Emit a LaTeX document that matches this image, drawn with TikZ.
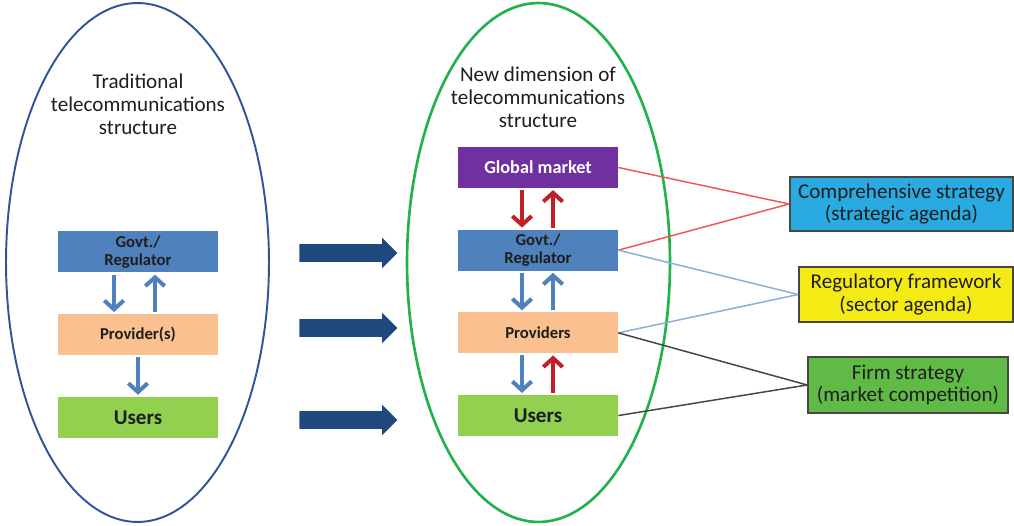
\documentclass[tikz,border=0pt]{standalone}
\usepackage{fontspec}
\setmainfont{Carlito}
\usetikzlibrary{shapes, shapes.arrows, arrows.meta, positioning}
\definecolor{ringblue}{RGB}{47,85,151}
\definecolor{ringgreen}{RGB}{34,177,76}
\definecolor{govblue}{RGB}{79,129,189}
\definecolor{peach}{RGB}{250,192,144}
\definecolor{usergreen}{RGB}{146,208,80}
\definecolor{marketpurple}{RGB}{112,48,160}
\definecolor{navy}{RGB}{31,73,125}
\definecolor{arrowred}{RGB}{192,32,38}
\definecolor{compblue}{RGB}{41,171,226}
\definecolor{regyellow}{RGB}{245,235,20}
\definecolor{firmgreen}{RGB}{96,186,70}
\definecolor{linered}{RGB}{238,88,88}
\definecolor{lineblue}{RGB}{140,175,218}
\definecolor{linegray}{RGB}{70,70,70}
\definecolor{ink}{RGB}{30,30,30}
\tikzstyle{block} = [rectangle, minimum width=3.2cm, minimum height=0.82cm, inner sep=1pt, align=center, text=ink, font=\fontsize{9.5}{10.2}\selectfont\bfseries]
\tikzstyle{agenda} = [draw=linegray, line width=1pt, rectangle, align=center, text=ink, minimum height=1.08cm, font=\fontsize{12}{13}\selectfont]
\tikzstyle{ring} = [ellipse, minimum width=5.26cm, minimum height=10.38cm]
\tikzstyle{heading} = [align=center, text=ink, font=\fontsize{12}{13}\selectfont]
\tikzstyle{bigarrow} = [single arrow, fill=navy, minimum height=1.96cm, minimum width=0.6cm, inner sep=0.17cm, single arrow head extend=0.13cm]
\tikzstyle{flow} = [line width=2.3pt, shorten <=1pt, shorten >=1pt, -{Straight Barb[length=5pt,width=11pt]}]
\tikzstyle{link} = [line width=0.85pt]

\begin{document}
\begin{tikzpicture}[x=0.02cm, y=-0.02cm]
  \useasboundingbox (0,0) rectangle (1014,526);

  % traditional structure
  \node[ring, draw=ringblue, line width=1.1pt] (oldring) at (137.5,262.5) {};
  \node[heading] (oldtitle) at (138,104) {Traditional\\telecommunications\\structure};
  \node[block, fill=govblue] (lgov) at (138,252) {Govt./\\Regulator};
  \node[block, fill=peach, below=0.82cm of lgov] (lprov) {Provider(s)};
  \node[block, fill=usergreen, below=0.82cm of lprov, font=\fontsize{12}{13}\selectfont\bfseries] (lusers) {Users};
  \draw[flow, govblue] ([xshift=-0.48cm]lgov.south) -- ([xshift=-0.48cm]lprov.north);
  \draw[flow, govblue] ([xshift=0.34cm]lprov.north) -- ([xshift=0.34cm]lgov.south);
  \draw[flow, govblue] (lprov) -- (lusers);

  % transition arrows
  \node[bigarrow] (step1) at (344,253) {};
  \node[bigarrow] (step2) at (344,328) {};
  \node[bigarrow] (step3) at (344,420) {};

  % new dimension
  \node[ring, draw=ringgreen, line width=1.5pt] (newring) at (538.5,262.5) {};
  \node[heading] (newtitle) at (538,97) {New dimension of\\telecommunications\\structure};
  \node[block, fill=marketpurple, text=white, font=\fontsize{10.4}{11}\selectfont\bfseries] (rmarket) at (538,167.5) {Global market};
  \node[block, fill=govblue, below=0.82cm of rmarket] (rgov) {Govt./\\Regulator};
  \node[block, fill=peach, below=0.82cm of rgov] (rprov) {Providers};
  \node[block, fill=usergreen, below=0.82cm of rprov, font=\fontsize{12}{13}\selectfont\bfseries] (rusers) {Users};
  \draw[flow, arrowred] ([xshift=-0.32cm]rmarket.south) -- ([xshift=-0.32cm]rgov.north);
  \draw[flow, arrowred] ([xshift=0.3cm]rgov.north) -- ([xshift=0.3cm]rmarket.south);
  \draw[flow, govblue] ([xshift=-0.32cm]rgov.south) -- ([xshift=-0.32cm]rprov.north);
  \draw[flow, govblue] ([xshift=0.3cm]rprov.north) -- ([xshift=0.3cm]rgov.south);
  \draw[flow, govblue] ([xshift=-0.32cm]rprov.south) -- ([xshift=-0.32cm]rusers.north);
  \draw[flow, arrowred] ([xshift=0.3cm]rusers.north) -- ([xshift=0.3cm]rprov.south);

  % agendas
  \node[agenda, fill=compblue, minimum width=4.46cm] (comp) at (901.5,204) {Comprehensive strategy\\(strategic agenda)};
  \node[agenda, fill=regyellow, minimum width=4.28cm, minimum height=1.1cm] (reg) at (906,294.5) {Regulatory framework\\(sector agenda)};
  \node[agenda, fill=firmgreen, minimum width=4cm, minimum height=1.12cm] (firm) at (908,385) {Firm strategy\\(market competition)};
  \draw[link, linered] (rmarket.east) -- (comp.west);
  \draw[link, linered] (rgov.east) -- (comp.west);
  \draw[link, lineblue] (rgov.east) -- (reg.west);
  \draw[link, lineblue] (rprov.east) -- (reg.west);
  \draw[link, linegray] (rprov.east) -- (firm.west);
  \draw[link, linegray] (rusers.east) -- (firm.west);
\end{tikzpicture}
\end{document}
